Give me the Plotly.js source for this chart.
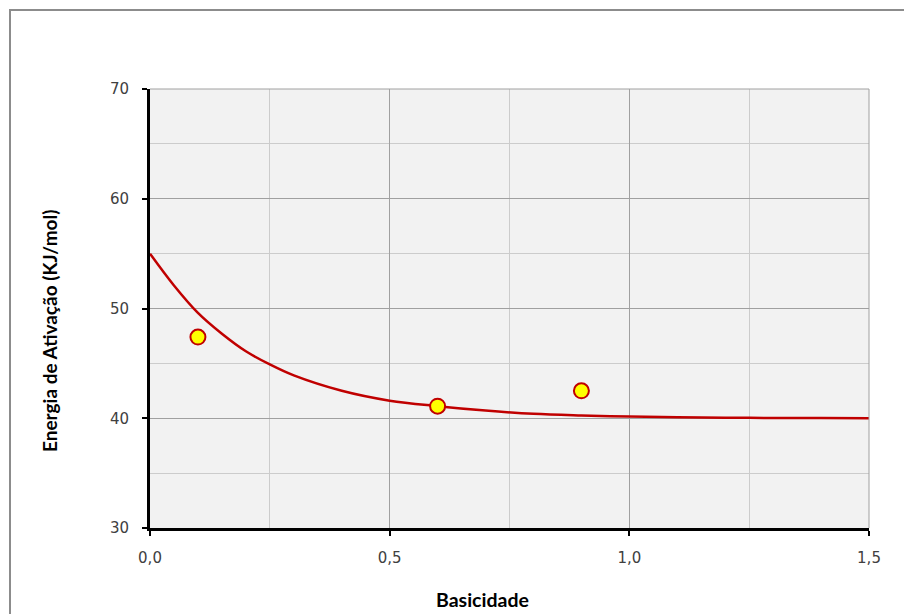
<!DOCTYPE html>
<html>
<head>
<meta charset="utf-8">
<script src="https://cdn.plot.ly/plotly-3.0.1.min.js"></script>
<style>
  html, body { margin: 0; padding: 0; background: #ffffff; }
  #wrap { position: relative; width: 904px; height: 614px; overflow: hidden; }
  #frame { position: absolute; left: 9px; top: 9px; width: 910px; height: 620px;
           border-left: 2px solid #8c8c8c; border-top: 2px solid #8c8c8c; pointer-events: none; z-index: 5; }
  #chart { position: absolute; left: 0; top: 0; width: 904px; height: 614px; }
</style>
</head>
<body>
<div id="wrap">
  <div id="chart"></div>
  <div id="frame"></div>
</div>
<script>
// Measured activation energy vs. basicity
const basicidade = [0.1, 0.6, 0.9];
const energia = [47.4, 41.1, 42.5];

// Fitted trend curve
const curvaX = [0, 0.05, 0.1, 0.15, 0.2, 0.25, 0.3, 0.4, 0.5, 0.6, 0.7, 0.8, 0.9, 1.0, 1.1, 1.2, 1.3, 1.4, 1.5];
const curvaY = [55.0, 52.1, 49.6, 47.7, 46.1, 44.9, 43.9, 42.5, 41.6, 41.1, 40.7, 40.4, 40.25, 40.15, 40.1, 40.05, 40.03, 40.02, 40.0];

const tickFont = { family: 'DejaVu Sans', size: 15, color: '#404040' };
const xTitleFont = { family: 'Lato', size: 19.5, color: '#000000', weight: 'bold' };
const yTitleFont = { family: 'Lato', size: 19, color: '#000000', weight: 'bold' };

const traces = [
  {
    x: curvaX, y: curvaY, type: 'scatter', mode: 'lines',
    line: { color: '#c00000', width: 2.5, shape: 'spline', smoothing: 1 },
    hoverinfo: 'skip', showlegend: false
  },
  {
    x: basicidade, y: energia, type: 'scatter', mode: 'markers',
    marker: { size: 15, color: '#ffff00', line: { color: '#c00000', width: 2 } },
    showlegend: false
  }
];

const layout = {
  width: 904, height: 614,
  margin: { l: 150, r: 35, t: 89, b: 86 },
  paper_bgcolor: '#ffffff',
  plot_bgcolor: '#f2f2f2',
  separators: ',.',
  showlegend: false,
  xaxis: {
    range: [0, 1.5], dtick: 0.5, tick0: 0, tickformat: '.1f',
    showgrid: true, gridcolor: '#a0a0a0', gridwidth: 1,
    minor: { dtick: 0.25, showgrid: true, gridcolor: '#cccccc', gridwidth: 1, ticks: '' },
    zeroline: false,
    showline: true, linecolor: '#000000', linewidth: 3,
    ticks: 'outside', ticklen: 5, tickwidth: 2, tickcolor: '#000000',
    ticklabelstandoff: 9,
    tickfont: tickFont, fixedrange: true
  },
  yaxis: {
    range: [30, 70], dtick: 10, tick0: 30,
    showgrid: true, gridcolor: '#a0a0a0', gridwidth: 1,
    minor: { dtick: 5, showgrid: true, gridcolor: '#cccccc', gridwidth: 1, ticks: '' },
    zeroline: false,
    showline: true, linecolor: '#000000', linewidth: 3,
    ticks: 'outside', ticklen: 5, tickwidth: 2, tickcolor: '#000000',
    ticklabelstandoff: 10,
    tickfont: tickFont, fixedrange: true
  },
  shapes: [
    // top and right edges of the plotting area
    { type: 'line', xref: 'paper', yref: 'paper', x0: 0, x1: 1, y0: 1, y1: 1, line: { color: '#a0a0a0', width: 1 } },
    { type: 'line', xref: 'paper', yref: 'paper', x0: 1, x1: 1, y0: 0, y1: 1, line: { color: '#a0a0a0', width: 1 } }
  ],
  annotations: [
    { text: '<b>Basicidade</b>', xref: 'paper', yref: 'paper',
      x: (482 - 150) / 719, y: -(599 - 528) / 439, xanchor: 'center', yanchor: 'middle',
      showarrow: false, font: xTitleFont },
    { text: '<b>Energia de Ativação (KJ/mol)</b>', xref: 'paper', yref: 'paper',
      x: -(150 - 49) / 719, y: (528 - 331) / 439, xanchor: 'center', yanchor: 'middle',
      textangle: -90, showarrow: false, font: yTitleFont }
  ]
};

Plotly.newPlot('chart', traces, layout, { displayModeBar: false, staticPlot: true });
</script>
</body>
</html>
